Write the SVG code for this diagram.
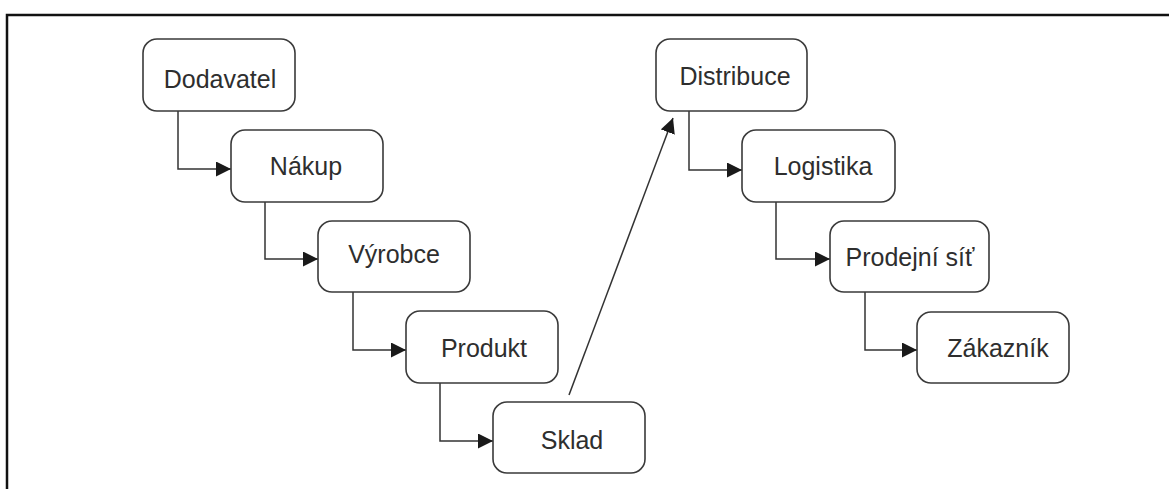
<svg xmlns="http://www.w3.org/2000/svg" width="1169" height="489" viewBox="0 0 1169 489">
<style>
.box{fill:#fff;stroke:#3a3a3a;stroke-width:1.6}
.lbl{font-family:"Liberation Sans",Arial,sans-serif;font-size:25px;fill:#2e2e2e;text-anchor:middle}
.con{fill:none;stroke:#333;stroke-width:1.5}
</style>
<defs>
<marker id="ah" markerUnits="userSpaceOnUse" markerWidth="15" markerHeight="15" refX="15" refY="7.5" orient="auto">
<path d="M0,0 L15,7.5 L0,15 z" fill="#1a1a1a"/>
</marker>
</defs>
<rect width="1169" height="489" fill="#fff"/>
<path d="M7,489 L7,15 L1169,15" fill="none" stroke="#111" stroke-width="2.5"/>
<g id="connectors">
<path class="con" d="M178,111 V169 H231" marker-end="url(#ah)"/>
<path class="con" d="M265,202 V259 H318" marker-end="url(#ah)"/>
<path class="con" d="M353,292 V350 H406" marker-end="url(#ah)"/>
<path class="con" d="M440,383 V441 H493" marker-end="url(#ah)"/>
<path class="con" d="M569,395 L673,118" marker-end="url(#ah)"/>
<path class="con" d="M689,111 V170 H742" marker-end="url(#ah)"/>
<path class="con" d="M776,202 V259 H830" marker-end="url(#ah)"/>
<path class="con" d="M865,292 V350 H917" marker-end="url(#ah)"/>
</g>
<g id="dodavatel"><rect class="box" x="143" y="39" width="152" height="72" rx="14"/><text class="lbl" x="220" y="88">Dodavatel</text></g>
<g id="nakup"><rect class="box" x="231" y="130" width="152" height="72" rx="14"/><text class="lbl" x="306" y="175">Nákup</text></g>
<g id="vyrobce"><rect class="box" x="318" y="221" width="152" height="71" rx="14"/><text class="lbl" x="394" y="263">Výrobce</text></g>
<g id="produkt"><rect class="box" x="406" y="311" width="152" height="72" rx="14"/><text class="lbl" x="484" y="357">Produkt</text></g>
<g id="sklad"><rect class="box" x="493" y="402" width="152" height="71" rx="14"/><text class="lbl" x="572" y="449">Sklad</text></g>
<g id="distribuce"><rect class="box" x="656" y="39" width="151" height="72" rx="14"/><text class="lbl" x="735" y="85">Distribuce</text></g>
<g id="logistika"><rect class="box" x="742" y="130" width="153" height="72" rx="14"/><text class="lbl" x="823" y="175">Logistika</text></g>
<g id="prodejni-sit"><rect class="box" x="830" y="221" width="159" height="71" rx="14"/><text class="lbl" x="910" y="266">Prodejní síť</text></g>
<g id="zakaznik"><rect class="box" x="917" y="312" width="152" height="71" rx="14"/><text class="lbl" x="998" y="357">Zákazník</text></g>
</svg>
